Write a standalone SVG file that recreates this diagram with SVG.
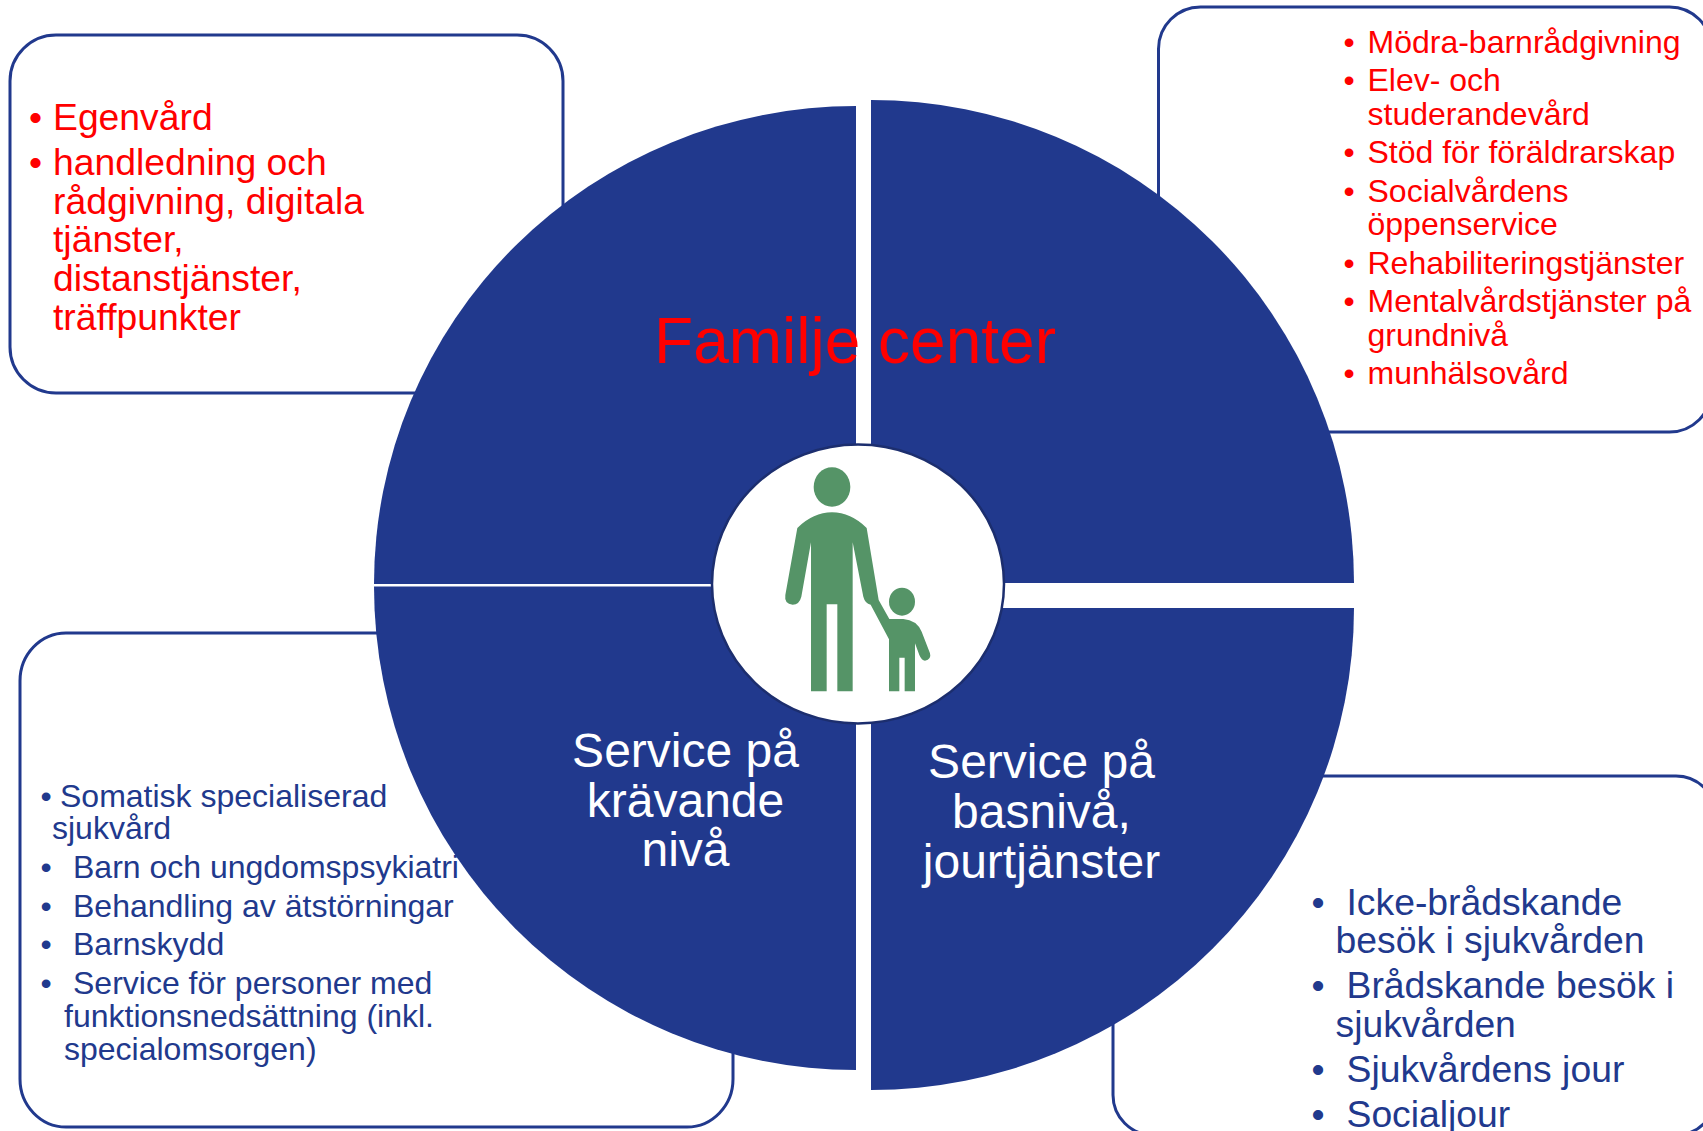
<svg xmlns="http://www.w3.org/2000/svg" width="1703" height="1131" viewBox="0 0 1703 1131">
<style>
text{font-family:"Liberation Sans",Arial,sans-serif}
.box{fill:#fff;stroke:#21398d;stroke-width:3}
.q{fill:#21398d}
.r{fill:#f00}
.b{fill:#21398d}
.w{fill:#fff;font-size:48px;text-anchor:middle}
.s30{font-size:32px}
.s37{font-size:37.3px}
</style>
<rect width="1703" height="1131" fill="#fff"/>
<g id="box-top-left">
<rect class="box" x="10" y="35" width="553" height="358" rx="46" ry="46"/>
<g class="r s37">
<text x="29" y="130">•</text><text x="53" y="130">Egenvård</text>
<text x="29" y="175">•</text><text x="53" y="175">handledning och</text>
<text x="53" y="214">rådgivning, digitala</text>
<text x="53" y="252">tjänster,</text>
<text x="53" y="291">distanstjänster,</text>
<text x="53" y="330">träffpunkter</text>
</g>
</g>
<g id="box-top-right">
<rect class="box" x="1158.500" y="7" width="553" height="425" rx="42" ry="42"/>
<g class="r s30">
<text x="1343.500" y="52.500">•</text><text x="1367.500" y="52.500">Mödra-barnrådgivning</text>
<text x="1343.500" y="91">•</text><text x="1367.500" y="91">Elev- och</text>
<text x="1367.500" y="125">studerandevård</text>
<text x="1343.500" y="163">•</text><text x="1367.500" y="163">Stöd för föräldrarskap</text>
<text x="1343.500" y="202">•</text><text x="1367.500" y="202">Socialvårdens</text>
<text x="1367.500" y="235">öppenservice</text>
<text x="1343.500" y="274">•</text><text x="1367.500" y="274">Rehabiliteringstjänster</text>
<text x="1343.500" y="312">•</text><text x="1367.500" y="312">Mentalvårdstjänster på</text>
<text x="1367.500" y="346">grundnivå</text>
<text x="1343.500" y="384">•</text><text x="1367.500" y="384">munhälsovård</text>
</g>
</g>
<g id="box-bottom-left">
<rect class="box" x="20" y="633" width="713" height="494" rx="46" ry="48"/>
<g class="b s30">
<text x="40.500" y="806.500">•</text><text x="60" y="806.500">Somatisk specialiserad</text>
<text x="52" y="839">sjukvård</text>
<text x="40.500" y="878">•</text><text x="73" y="878">Barn och ungdomspsykiatri</text>
<text x="40.500" y="916.500">•</text><text x="73" y="916.500">Behandling av ätstörningar</text>
<text x="40.500" y="955">•</text><text x="73" y="955">Barnskydd</text>
<text x="40.500" y="994">•</text><text x="73" y="994">Service för personer med</text>
<text x="64" y="1027">funktionsnedsättning (inkl.</text>
<text x="64" y="1060">specialomsorgen)</text>
</g>
</g>
<g id="box-bottom-right">
<rect class="box" x="1113" y="776" width="603" height="359" rx="40" ry="40"/>
<g class="b s37">
<text x="1311.500" y="915">•</text><text x="1346.500" y="915">Icke-brådskande</text>
<text x="1335.500" y="953">besök i sjukvården</text>
<text x="1311.500" y="998">•</text><text x="1346.500" y="998">Brådskande besök i</text>
<text x="1335.500" y="1037">sjukvården</text>
<text x="1311.500" y="1082">•</text><text x="1346.500" y="1082">Sjukvårdens jour</text>
<text x="1311.500" y="1127">•</text><text x="1346.500" y="1127">Socialjour</text>
</g>
</g>
<g id="wheel">
<path id="quadrant-top-left" class="q" d="M856 584H374A482 478 0 0 1 856 106Z"/>
<path id="quadrant-top-right" class="q" d="M871 583V100A483 483 0 0 1 1354 583Z"/>
<path id="quadrant-bottom-right" class="q" d="M871 608H1354A483 482 0 0 1 871 1090Z"/>
<path id="quadrant-bottom-left" class="q" d="M856 586.500V1070A482 483.500 0 0 1 374 586.500Z"/>
</g>
<g id="title"><text x="855" y="363" font-size="64" fill="#f00" text-anchor="middle">Familje center</text></g>
<g id="label-demanding">
<text class="w" x="685.500" y="766.500">Service på</text>
<text class="w" x="685.500" y="816.500">krävande</text>
<text class="w" x="685.500" y="866">nivå</text>
</g>
<g id="label-basic">
<text class="w" x="1041.500" y="778">Service på</text>
<text class="w" x="1041.500" y="828">basnivå,</text>
<text class="w" x="1041.500" y="878">jourtjänster</text>
</g>
<g id="center">
<ellipse cx="858" cy="584" rx="146" ry="139.500" fill="#fff" stroke="#1c2e6e" stroke-width="2.500"/>
<g transform="translate(640 400) scale(.33333)" fill="#559467">
<ellipse cx="576" cy="261" rx="55" ry="59"/>
<ellipse cx="786" cy="605" rx="39" ry="42"/>
<path d="M472 384Q520 337 576 337Q632 337 680 384L716 600L748 657L790 657Q830 660 845 695L870 760Q875 778 855 782Q845 782 838 765L825 730L825 874L794 874L794 773L778 773L778 874L747 874L747 718L692 614Q675 610 670 590L638 427L638 874L592 874L592 613L560 613L560 874L513 874L513 427L484 590Q478 614 458 614Q432 612 436 585Z"/>
</g>
</g>
</svg>
